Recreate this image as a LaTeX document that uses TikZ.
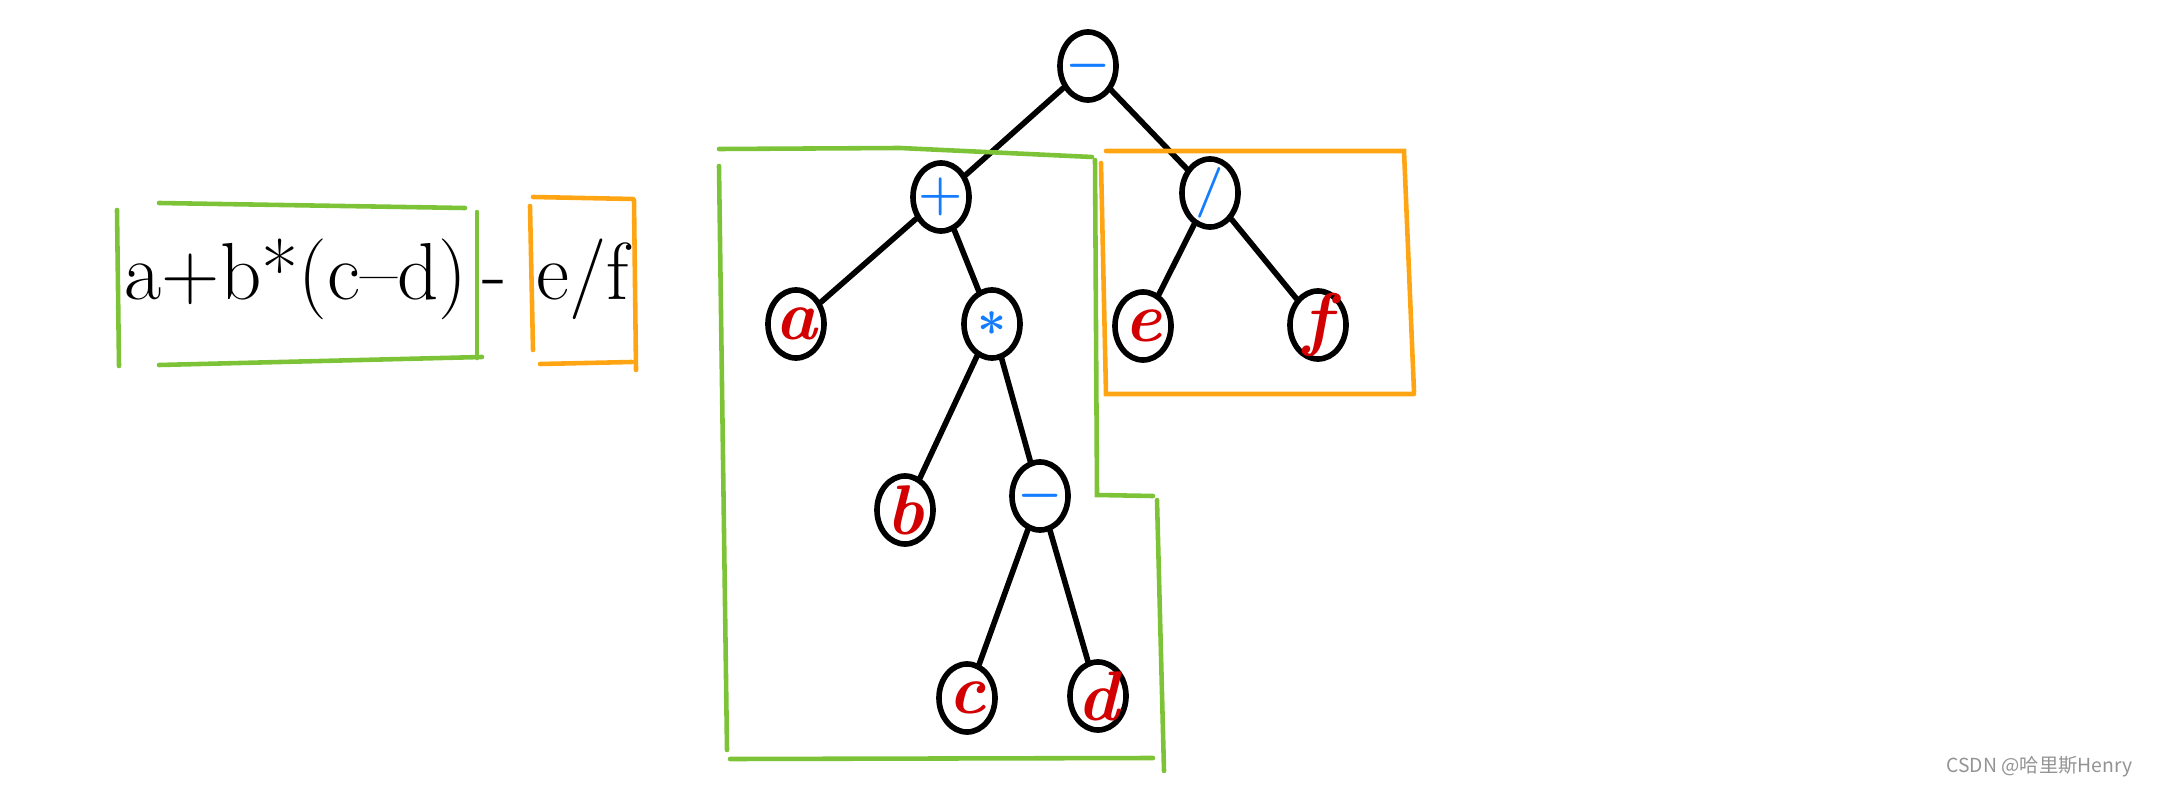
\documentclass[tikz,border=0pt]{standalone}
\usepackage{fontspec}
\newfontfamily\cjk{Noto Sans CJK SC}
\usetikzlibrary{shapes.geometric}
\definecolor{opblue}{RGB}{20,125,255}
\definecolor{leafred}{RGB}{210,0,0}
\definecolor{boxgreen}{RGB}{125,195,55}
\definecolor{boxorange}{RGB}{255,165,20}

\begin{document}
\begin{tikzpicture}[x=0.01cm,y=-0.01cm,
    tnode/.style={draw,ellipse,line width=1.6pt,minimum width=0.56cm,minimum height=0.68cm,inner sep=-5pt},
    op/.style={tnode,text=opblue,font=\fontsize{15}{15}\selectfont\bfseries\boldmath},
    leaf/.style={tnode,text=leafred,font=\fontsize{20}{20}\selectfont\bfseries\itshape},
    link/.style={line width=1.6pt,line cap=round},
    gline/.style={boxgreen,line width=1.3pt,line cap=round},
    oline/.style={boxorange,line width=1.3pt,line cap=round},
    expr/.style={anchor=base,font=\fontsize{23}{23}\selectfont}]
  \useasboundingbox (0,0) rectangle (2160,788);

  % the expression
  \node[expr] (exl) at (296,300) {a+b*(c--d)};
  \node[expr] (exm) at (495,300) {-};
  \node[expr] (exr) at (583,300) {e/f};
  \draw[gline] (159,203) -- (465,208);
  \draw[gline] (117,210) -- (119,366);
  \draw[gline] (477,212) -- (477,358);
  \draw[gline] (159,365) -- (482,357);
  \draw[oline] (533,197) -- (633,199);
  \draw[oline] (530,206) -- (533,350);
  \draw[oline] (634,200) -- (636,370);
  \draw[oline] (540,364) -- (632,362);

  % the tree
  \node[op] (root) at (1088,66) {$-$};
  \node[op] (plus) at (941,197) {$+$};
  \node[op] (div) at (1210,193) {$/$};
  \node[leaf] (a) at (796,324) {a};
  \node[op] (mul) at (992,324) {$\ast$};
  \node[leaf] (e) at (1143,326) {e};
  \node[leaf] (f) at (1318,325) {f};
  \node[leaf] (b) at (905,510) {b};
  \node[op] (sub) at (1040,496) {$-$};
  \node[leaf] (c) at (967,698) {c};
  \node[leaf] (d) at (1098,696) {d};

  \draw[link] (root) -- (plus);
  \draw[link] (root) -- (div);
  \draw[link] (plus) -- (a);
  \draw[link] (plus) -- (mul);
  \draw[link] (mul) -- (b);
  \draw[link] (mul) -- (sub);
  \draw[link] (sub) -- (c);
  \draw[link] (sub) -- (d);
  \draw[link] (div) -- (e);
  \draw[link] (div) -- (f);

  % boxes round the subtrees
  \draw[gline] (719,149) -- (900,148) -- (1092,157);
  \draw[gline] (719,166) -- (727,750);
  \draw[gline] (1095,160) -- (1097,495) -- (1153,496);
  \draw[gline] (1157,500) -- (1164,771);
  \draw[gline] (730,759) -- (1153,758);
  \draw[oline] (1106,151) -- (1404,151) -- (1414,392);
  \draw[oline] (1101,163) -- (1106,394) -- (1414,394);

  \node[anchor=east,text=gray!85,font=\cjk\fontsize{5.5}{6}\selectfont] (mark) at (2145,767) {CSDN @哈里斯Henry};
\end{tikzpicture}
\end{document}
